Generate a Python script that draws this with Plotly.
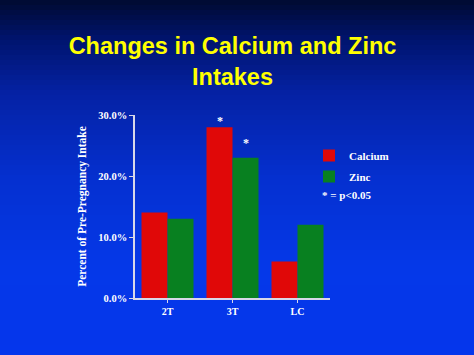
import plotly.graph_objects as go

categories = ["2T", "3T", "LC"]
calcium = [14, 28, 6]
zinc = [13, 23, 12]
calcium_star_y = [None, 29.5, None]
zinc_star_y = [None, 25.9, None]
y_ticks = [0, 10, 20, 30]
y_tick_labels = ["0.0%", "10.0%", "20.0%", "30.0%"]

W, H = 474, 355
ML, MR, MT, MB = 135, 144, 115, 57

fig = go.Figure()
fig.add_trace(go.Bar(name="Calcium", x=categories, y=calcium, marker_color="#e00808",
                     marker_line_width=0, legendgroup="a"))
fig.add_trace(go.Bar(name="Zinc", x=categories, y=zinc, marker_color="#088020",
                     marker_line_width=0, legendgroup="b"))

# significance asterisks
for i, c in enumerate(categories):
    if calcium_star_y[i] is not None:
        fig.add_annotation(x=c, y=calcium_star_y[i], xshift=-13, yshift=-3, text="<b>*</b>", showarrow=False,
                           yanchor="middle", font=dict(color="white", size=12, family="Liberation Serif"))
    if zinc_star_y[i] is not None:
        fig.add_annotation(x=c, y=zinc_star_y[i], xshift=13, yshift=-3, text="<b>*</b>", showarrow=False,
                           yanchor="middle", font=dict(color="white", size=12, family="Liberation Serif"))

# background gradient stripes
stops = [(0, (0, 10, 48)), (40, (0, 20, 110)), (95, (5, 34, 165)), (180, (5, 48, 208)),
         (265, (5, 56, 232)), (355, (5, 54, 236))]
def col(yp):
    for (y0, c0), (y1, c1) in zip(stops[:-1], stops[1:]):
        if y0 <= yp <= y1:
            t = (yp - y0) / (y1 - y0)
            return "rgb(%d,%d,%d)" % tuple(round(a + (b - a) * t) for a, b in zip(c0, c1))
    return "rgb(%d,%d,%d)" % stops[-1][1]

PW, PH = W - ML - MR, H - MT - MB
n = 71
step = H / n
for k in range(n):
    top = k * step
    bot = (k + 1) * step + 0.6
    fig.add_shape(type="rect", xref="paper", yref="paper", layer="below",
                  x0=-ML / PW - 0.01, x1=1 + MR / PW + 0.01,
                  y0=(H - MB - bot) / PH, y1=(H - MB - top) / PH,
                  fillcolor=col((top + bot) / 2), line_width=0)

fig.add_annotation(xref="paper", yref="paper", x=(320 - ML) / PW, y=(H - MB - 195) / PH,
                   xanchor="left", yanchor="middle", text="<b>* = p<0.05</b>", showarrow=False,
                   font=dict(color="white", size=11, family="Liberation Serif"))

fig.update_layout(
    width=W, height=H,
    margin=dict(l=ML, r=MR, t=MT, b=MB),
    paper_bgcolor="#0020a0", plot_bgcolor="rgba(0,0,0,0)",
    barmode="group", bargap=0.2, bargroupgap=0,
    title=dict(text="<b>Changes in Calcium and Zinc<br>Intakes</b>", x=0.5, xanchor="center",
               xref="paper", y=1 - 54 / H, yanchor="top",
               font=dict(color="#ffff00", size=23.5, family="Liberation Sans, Arial")),
    showlegend=True,
    legend=dict(x=(309 - ML) / PW, y=(H - MB - 141) / PH, xanchor="left", yanchor="top",
                bgcolor="rgba(0,0,0,0)", tracegroupgap=2,
                font=dict(color="white", size=11, family="Liberation Serif", weight="bold")),
    xaxis=dict(showgrid=False, showline=True, linecolor="#d8d8e8", linewidth=1.5,
               ticks="outside", ticklen=3, tickcolor="#d8d8e8",
               tickfont=dict(color="white", size=10, family="Liberation Serif", weight="bold")),
    yaxis=dict(range=[0, 30], tickvals=y_ticks, ticktext=y_tick_labels, showgrid=False,
               zeroline=False, showline=True, linecolor="#d8d8e8", linewidth=1.5,
               ticks="outside", ticklen=4, tickcolor="#d8d8e8",
               tickfont=dict(color="white", size=10.5, family="Liberation Serif", weight="bold"),
               title=dict(text="Percent of Pre-Pregnancy Intake", standoff=9,
                          font=dict(color="white", size=11.5, family="Liberation Serif", weight="bold"))),
)

fig.write_html("out.html")
